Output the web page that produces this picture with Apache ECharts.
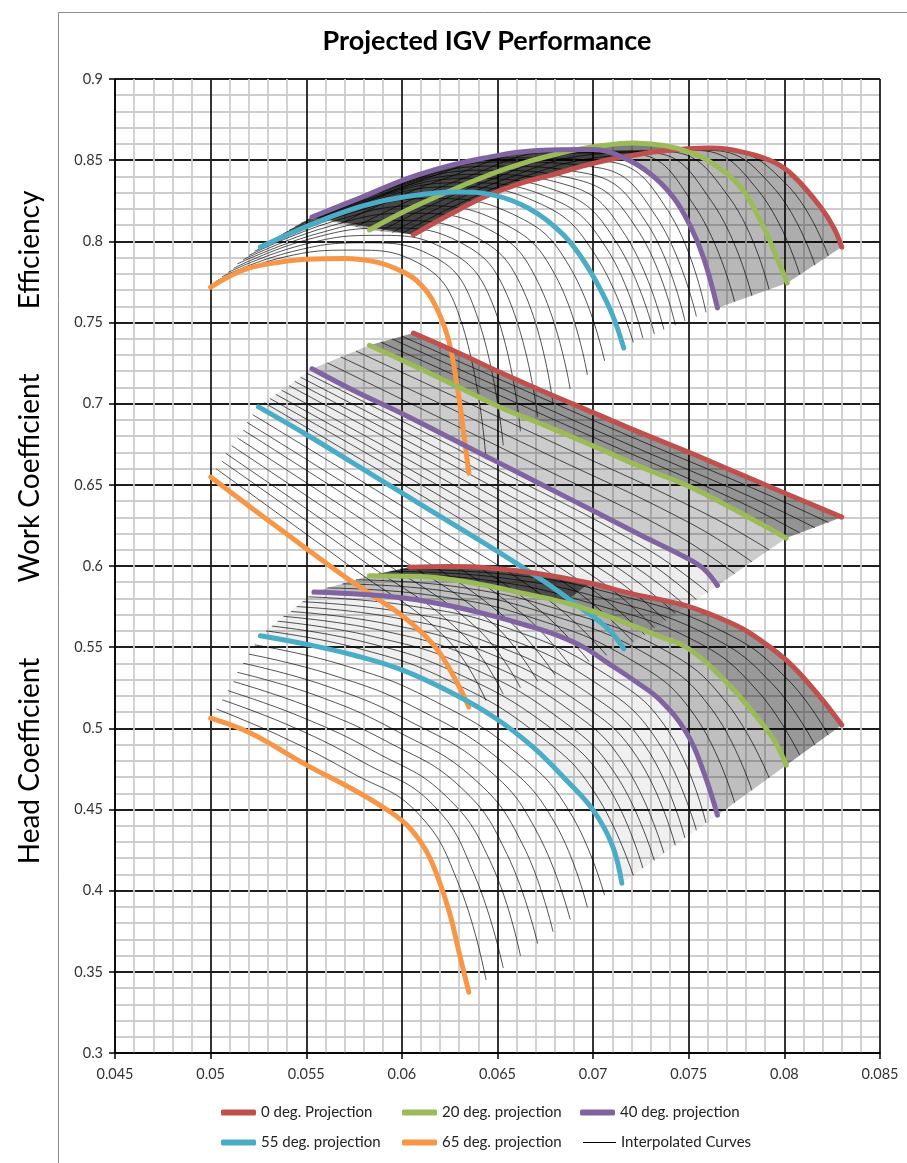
<!DOCTYPE html>
<html>
<head>
<meta charset="utf-8">
<script src="https://cdn.jsdelivr.net/npm/echarts@6/dist/echarts.min.js"></script>
<style>
html,body{margin:0;padding:0;background:#fff;}
#chart{width:907px;height:1163px;}
</style>
</head>
<body>
<div id="chart"></div>
<script>
// ---------- Data ----------
const seriesNames = ['0 deg. Projection', '20 deg. projection', '40 deg. projection', '55 deg. projection', '65 deg. projection'];
const interpName = 'Interpolated Curves';

// Efficiency projections [flow coefficient, efficiency]
const eff0 = [[0.0606,0.804],[0.0625,0.8165],[0.0643,0.8273],[0.0660,0.835],[0.0678,0.8408],[0.0700,0.848],[0.0713,0.8513],[0.0735,0.8555],[0.0761,0.8575],[0.0780,0.8545],[0.0795,0.8485],[0.0805,0.840],[0.0819,0.821],[0.0826,0.808],[0.0830,0.7965]];
const eff20 = [[0.0583,0.807],[0.0605,0.8205],[0.0630,0.8335],[0.0655,0.845],[0.0683,0.8544],[0.0705,0.859],[0.0721,0.8606],[0.0737,0.859],[0.0750,0.855],[0.0761,0.849],[0.0777,0.8335],[0.0789,0.809],[0.0796,0.790],[0.08015,0.7743]];
const eff40 = [[0.0553,0.815],[0.0578,0.8267],[0.0608,0.8408],[0.0643,0.8513],[0.0678,0.8563],[0.0700,0.8565],[0.0715,0.852],[0.0730,0.8415],[0.0742,0.827],[0.0751,0.809],[0.0758,0.789],[0.0765,0.759]];
const eff55 = [[0.0526,0.7965],[0.0556,0.812],[0.0580,0.822],[0.0601,0.8273],[0.0629,0.8304],[0.0648,0.8285],[0.0666,0.8205],[0.0683,0.8057],[0.0693,0.7916],[0.0702,0.7743],[0.0710,0.755],[0.0716,0.7343]];
const eff65 = [[0.0500,0.7718],[0.0510,0.7785],[0.0520,0.7835],[0.0535,0.787],[0.0550,0.789],[0.0570,0.7895],[0.0587,0.7872],[0.0600,0.7815],[0.0608,0.7755],[0.0616,0.7638],[0.0624,0.741],[0.0629,0.7102],[0.0632,0.685],[0.0635,0.6572]];

// Work coefficient projections
const work0 = [[0.0606,0.7435],[0.0630,0.731],[0.0651,0.7195],[0.0675,0.707],[0.0700,0.6945],[0.0725,0.682],[0.0751,0.6696],[0.0775,0.6575],[0.0800,0.645],[0.0830,0.6301]];
const work20 = [[0.0583,0.736],[0.0605,0.724],[0.0630,0.710],[0.0651,0.698],[0.0675,0.6865],[0.0700,0.674],[0.0725,0.661],[0.0751,0.6486],[0.0775,0.634],[0.0801,0.6172]];
const work40 = [[0.0553,0.7215],[0.0575,0.708],[0.0600,0.694],[0.0625,0.679],[0.0650,0.664],[0.0675,0.649],[0.0700,0.634],[0.0725,0.619],[0.0749,0.6049],[0.0758,0.598],[0.0765,0.588]];
const work55 = [[0.0525,0.698],[0.0550,0.681],[0.0575,0.663],[0.0600,0.645],[0.0625,0.627],[0.0650,0.609],[0.0675,0.590],[0.0695,0.573],[0.0708,0.561],[0.0716,0.549]];
const work65 = [[0.0500,0.6548],[0.0520,0.637],[0.0540,0.6195],[0.0556,0.6055],[0.0570,0.5935],[0.0585,0.5815],[0.0599,0.5705],[0.0610,0.5595],[0.0620,0.546],[0.0630,0.5255],[0.0635,0.5131]];

// Head coefficient projections
const head0 = [[0.0604,0.5993],[0.0625,0.5997],[0.0646,0.5988],[0.0670,0.5955],[0.0698,0.5895],[0.0720,0.583],[0.0734,0.5795],[0.0751,0.5747],[0.0770,0.566],[0.0782,0.5587],[0.0801,0.542],[0.0817,0.5217],[0.0830,0.502]];
const head20 = [[0.0583,0.594],[0.0610,0.5935],[0.0635,0.590],[0.0660,0.584],[0.0685,0.5775],[0.0710,0.568],[0.0735,0.5565],[0.0750,0.549],[0.0770,0.528],[0.0787,0.505],[0.0795,0.492],[0.0801,0.4773]];
const head40 = [[0.0554,0.584],[0.0580,0.5825],[0.0603,0.580],[0.0625,0.5755],[0.0646,0.5697],[0.0665,0.5635],[0.0681,0.5574],[0.0695,0.550],[0.0707,0.5408],[0.0722,0.529],[0.0735,0.5174],[0.0749,0.497],[0.0758,0.4724],[0.0765,0.4465]];
const head55 = [[0.0526,0.557],[0.0552,0.5513],[0.0575,0.545],[0.0600,0.536],[0.0625,0.5225],[0.0648,0.507],[0.0668,0.489],[0.0686,0.468],[0.0700,0.4496],[0.0710,0.428],[0.0715,0.4046]];
const head65 = [[0.0500,0.5063],[0.0521,0.497],[0.0550,0.4775],[0.0575,0.462],[0.0592,0.450],[0.0603,0.440],[0.0612,0.426],[0.0618,0.4108],[0.0625,0.3861],[0.0630,0.3615],[0.0635,0.3375]];

// Interpolated curves (a readable subset of the thin black curves)
const effThin = [
  [[0.0503,0.7756],[0.0538,0.7902],[0.0574,0.7946],[0.0608,0.787],[0.0630,0.7542],[0.0644,0.6657]],
  [[0.0506,0.7782],[0.0543,0.7938],[0.0580,0.7991],[0.0616,0.791],[0.0638,0.7584],[0.0653,0.6743]],
  [[0.0509,0.7808],[0.0547,0.7975],[0.0586,0.8037],[0.0623,0.795],[0.0647,0.7627],[0.0662,0.683]],
  [[0.0512,0.7834],[0.0551,0.8012],[0.0592,0.8082],[0.0631,0.799],[0.0655,0.7669],[0.0671,0.6917]],
  [[0.0514,0.7861],[0.0556,0.8048],[0.0597,0.8128],[0.0638,0.803],[0.0663,0.7711],[0.0679,0.7003]],
  [[0.0517,0.7887],[0.0560,0.8085],[0.0603,0.8173],[0.0646,0.807],[0.0671,0.7753],[0.0688,0.709]],
  [[0.0520,0.7913],[0.0564,0.8122],[0.0609,0.8219],[0.0653,0.811],[0.0680,0.7796],[0.0697,0.7177]],
  [[0.0523,0.7939],[0.0569,0.8158],[0.0615,0.8264],[0.0661,0.815],[0.0688,0.7838],[0.0706,0.7263]],
  [[0.0529,0.7986],[0.0577,0.8218],[0.0625,0.8336],[0.0673,0.8228],[0.0701,0.7919],[0.0721,0.7377]],
  [[0.0532,0.8006],[0.0580,0.824],[0.0629,0.8361],[0.0678,0.8265],[0.0707,0.7958],[0.0726,0.7403]],
  [[0.0535,0.8027],[0.0584,0.8263],[0.0634,0.8387],[0.0683,0.8303],[0.0712,0.7997],[0.0732,0.743]],
  [[0.0538,0.8047],[0.0588,0.8286],[0.0638,0.8412],[0.0688,0.8341],[0.0717,0.8035],[0.0737,0.7457]],
  [[0.0541,0.8068],[0.0591,0.8309],[0.0642,0.8438],[0.0692,0.8379],[0.0723,0.8075],[0.0743,0.7483]],
  [[0.0544,0.8088],[0.0595,0.8332],[0.0646,0.8463],[0.0697,0.8417],[0.0728,0.8113],[0.0748,0.751]],
  [[0.0547,0.8109],[0.0599,0.8354],[0.0651,0.8489],[0.0702,0.8455],[0.0733,0.8152],[0.0754,0.7537]],
  [[0.0550,0.8129],[0.0602,0.8377],[0.0655,0.8514],[0.0707,0.8492],[0.0739,0.8191],[0.0759,0.7563]],
  [[0.0561,0.813],[0.0614,0.8393],[0.0667,0.8545],[0.0721,0.8538],[0.0753,0.8218],[0.0774,0.7628]],
  [[0.0568,0.811],[0.0622,0.8385],[0.0676,0.855],[0.0730,0.8545],[0.0762,0.8245],[0.0783,0.7665]],
  [[0.0576,0.809],[0.0630,0.8378],[0.0684,0.8555],[0.0738,0.8553],[0.0771,0.8273],[0.0792,0.7703]],
  [[0.0589,0.8063],[0.0644,0.8368],[0.0699,0.855],[0.0754,0.856],[0.0786,0.8318],[0.0808,0.7796]],
  [[0.0595,0.8055],[0.0650,0.8365],[0.0705,0.854],[0.0761,0.856],[0.0794,0.8335],[0.0816,0.7853]],
  [[0.0600,0.8048],[0.0656,0.8363],[0.0712,0.853],[0.0767,0.856],[0.0801,0.8353],[0.0823,0.7909]]
];
const workThin = [
  [[0.0503,0.6598],[0.0574,0.5989],[0.0623,0.5557],[0.0644,0.517]],
  [[0.0506,0.6645],[0.0580,0.6029],[0.0631,0.5588],[0.0653,0.521]],
  [[0.0508,0.6693],[0.0585,0.6068],[0.0639,0.5620],[0.0662,0.525]],
  [[0.0511,0.6741],[0.0591,0.6108],[0.0647,0.5652],[0.0671,0.529]],
  [[0.0514,0.6789],[0.0597,0.6147],[0.0654,0.5683],[0.0680,0.533]],
  [[0.0517,0.6837],[0.0603,0.6187],[0.0662,0.5715],[0.0689,0.537]],
  [[0.0519,0.6885],[0.0608,0.6226],[0.0670,0.5747],[0.0698,0.541]],
  [[0.0522,0.6932],[0.0614,0.6266],[0.0678,0.5778],[0.0707,0.545]],
  [[0.0528,0.7006],[0.0624,0.6337],[0.0691,0.5847],[0.0721,0.5533]],
  [[0.0531,0.7032],[0.0629,0.6369],[0.0696,0.5884],[0.0727,0.5577]],
  [[0.0534,0.7058],[0.0633,0.6402],[0.0702,0.5921],[0.0732,0.562]],
  [[0.0537,0.7084],[0.0637,0.6434],[0.0707,0.5958],[0.0738,0.5663]],
  [[0.0541,0.7111],[0.0642,0.6466],[0.0712,0.5995],[0.0743,0.5707]],
  [[0.0544,0.7137],[0.0646,0.6498],[0.0717,0.6032],[0.0749,0.575]],
  [[0.0547,0.7163],[0.0650,0.6531],[0.0723,0.6069],[0.0754,0.5793]],
  [[0.0550,0.7189],[0.0655,0.6563],[0.0728,0.6106],[0.0760,0.5837]],
  [[0.0561,0.7251],[0.0667,0.6641],[0.0742,0.6202],[0.0774,0.5953]],
  [[0.0568,0.7288],[0.0676,0.6688],[0.0751,0.6262],[0.0783,0.6026]],
  [[0.0576,0.7324],[0.0684,0.6734],[0.0759,0.6321],[0.0792,0.6099]],
  [[0.0589,0.7379],[0.0699,0.6799],[0.0775,0.6404],[0.0808,0.6204]],
  [[0.0595,0.7398],[0.0705,0.6818],[0.0782,0.6428],[0.0816,0.6236]],
  [[0.0600,0.7416],[0.0712,0.6836],[0.0789,0.6451],[0.0823,0.6268]]
];
const headThin = [
  [[0.0503,0.5119],[0.0538,0.4944],[0.0574,0.4725],[0.0608,0.4481],[0.0630,0.4031],[0.0644,0.345]],
  [[0.0506,0.5176],[0.0543,0.5008],[0.0580,0.479],[0.0616,0.4532],[0.0638,0.4095],[0.0653,0.3524]],
  [[0.0509,0.5232],[0.0547,0.5072],[0.0586,0.4855],[0.0623,0.4583],[0.0647,0.416],[0.0662,0.3599]],
  [[0.0512,0.5288],[0.0551,0.5135],[0.0592,0.492],[0.0631,0.4634],[0.0655,0.4224],[0.0671,0.3673]],
  [[0.0514,0.5345],[0.0556,0.5199],[0.0597,0.4985],[0.0638,0.4686],[0.0663,0.4288],[0.0679,0.3748]],
  [[0.0517,0.5401],[0.0560,0.5263],[0.0603,0.505],[0.0646,0.4737],[0.0671,0.4353],[0.0688,0.3823]],
  [[0.0520,0.5457],[0.0564,0.5327],[0.0609,0.5115],[0.0653,0.4788],[0.0680,0.4417],[0.0697,0.3897]],
  [[0.0523,0.5514],[0.0569,0.5391],[0.0615,0.518],[0.0661,0.4839],[0.0688,0.4481],[0.0706,0.3972]],
  [[0.0529,0.560],[0.0577,0.5493],[0.0625,0.5292],[0.0673,0.4945],[0.0701,0.4601],[0.0721,0.4093]],
  [[0.0532,0.563],[0.0581,0.553],[0.0629,0.5338],[0.0678,0.500],[0.0707,0.4656],[0.0726,0.4139]],
  [[0.0535,0.566],[0.0584,0.5568],[0.0634,0.5385],[0.0683,0.5055],[0.0712,0.4712],[0.0732,0.4186]],
  [[0.0538,0.569],[0.0588,0.5606],[0.0638,0.5432],[0.0688,0.511],[0.0717,0.4767],[0.0737,0.4232]],
  [[0.0542,0.572],[0.0592,0.5644],[0.0642,0.5479],[0.0692,0.5165],[0.0723,0.4823],[0.0743,0.4279]],
  [[0.0545,0.575],[0.0596,0.5682],[0.0646,0.5525],[0.0697,0.522],[0.0728,0.4878],[0.0748,0.4325]],
  [[0.0548,0.578],[0.0599,0.5719],[0.0651,0.5572],[0.0702,0.5275],[0.0733,0.4934],[0.0754,0.4372]],
  [[0.0551,0.581],[0.0603,0.5757],[0.0655,0.5618],[0.0707,0.533],[0.0739,0.4989],[0.0759,0.4418]],
  [[0.0561,0.5865],[0.0615,0.582],[0.0667,0.5685],[0.0721,0.5414],[0.0753,0.5081],[0.0774,0.4542]],
  [[0.0569,0.589],[0.0623,0.5845],[0.0676,0.5705],[0.0730,0.5443],[0.0762,0.5118],[0.0783,0.4619]],
  [[0.0576,0.5915],[0.0630,0.587],[0.0684,0.5725],[0.0739,0.5471],[0.0770,0.5154],[0.0792,0.4696]],
  [[0.0588,0.5953],[0.0644,0.5913],[0.0698,0.5773],[0.0754,0.5534],[0.0786,0.523],[0.0808,0.4835]],
  [[0.0594,0.5967],[0.0650,0.593],[0.0705,0.580],[0.0761,0.5568],[0.0794,0.527],[0.0816,0.4897]],
  [[0.0599,0.598],[0.0655,0.5948],[0.0711,0.5828],[0.0767,0.5601],[0.0801,0.531],[0.0823,0.4958]]
];

const title = 'Projected IGV Performance';
const yGroupTitles = ['Efficiency', 'Work Coefficient', 'Head Coefficient'];

// ---------- Styling ----------
const colors = ['#C0504D', '#9BBB59', '#8064A2', '#4BACC6', '#F79646'];
const FONT = 'Lato, "Open Sans", sans-serif';

const families = [
  [eff0, eff20, eff40, eff55, eff65],
  [work0, work20, work40, work55, work65],
  [head0, head20, head40, head55, head65]
];
const thinFamilies = [effThin, workThin, headThin];

// shaded bands between neighbouring projections (dense hatching in the original)
const bands = [
  [eff40, eff20, 'rgba(0,0,0,0.28)'], [eff20, eff0, 'rgba(0,0,0,0.32)'],
  [eff40.slice(0, 7), eff0.slice(0, 9), 'rgba(0,0,0,0.62)'],
  [work55, work40, 'rgba(0,0,0,0.07)'], [work40, work20, 'rgba(0,0,0,0.2)'], [work20, work0, 'rgba(0,0,0,0.42)'],
  [head55, head40, 'rgba(0,0,0,0.06)'], [head40, head20, 'rgba(0,0,0,0.25)'], [head20, head0, 'rgba(0,0,0,0.4)'],
  [head20.slice(0, 5), head0.slice(0, 5), 'rgba(0,0,0,0.5)']
];

const series = [];
bands.forEach(([a, b, fill]) => {
  series.push({
    type: 'custom', name: 'band', silent: true, z: 1, clip: true,
    data: [a[0]],
    renderItem: (params, api) => {
      const pts = a.concat(b.slice().reverse()).map(p => api.coord(p));
      return { type: 'polygon', shape: { points: pts }, style: { fill: fill, stroke: null } };
    }
  });
});
thinFamilies.forEach(fam => fam.forEach(curve => {
  series.push({
    type: 'line', name: interpName, data: curve, smooth: 0.45, symbol: 'none', silent: true, z: 2,
    lineStyle: { color: '#000', width: 0.85, opacity: 0.8 }, itemStyle: { color: '#000' }
  });
}));
families.forEach(fam => fam.forEach((curve, i) => {
  series.push({
    type: 'line', name: seriesNames[i], data: curve, smooth: 0.4, symbol: 'none', z: 3,
    lineStyle: { color: colors[i], width: 5, cap: 'round', join: 'round' }, itemStyle: { color: colors[i] }
  });
}));

const legendPos = [[221, 1105], [402, 1105], [580, 1105], [221, 1135], [402, 1135], [583, 1135]];
const legendNames = seriesNames.concat([interpName]);
const legends = legendNames.map((n, i) => ({
  data: [{ name: n, icon: i < 5 ? 'roundRect' : 'rect' }],
  left: legendPos[i][0], top: legendPos[i][1], padding: 0,
  itemWidth: i < 5 ? 35 : 33, itemHeight: i < 5 ? 6 : 1,
  selectedMode: false,
  textStyle: { fontFamily: FONT, fontSize: 15, color: '#222' }
}));

const axisCommon = {
  type: 'value',
  axisLine: { show: true, lineStyle: { color: '#000', width: 1.5 } },
  axisTick: { show: true, length: 6, lineStyle: { color: '#000', width: 1.5 } },
  splitLine: { show: true, lineStyle: { color: '#1e1e1e', width: 1.8 } },
  minorTick: { show: false, splitNumber: 5 },
  minorSplitLine: { show: true, lineStyle: { color: '#cdcdcd', width: 1.8 } }
};

const option = {
  animation: false,
  backgroundColor: '#fff',
  grid: { left: 115, right: 27, top: 79, bottom: 110 },
  xAxis: Object.assign({}, axisCommon, {
    min: 0.045, max: 0.085, interval: 0.005,
    axisLabel: { formatter: v => String(+v.toFixed(3)), margin: 14, fontFamily: FONT, fontSize: 14.5, color: '#333' }
  }),
  yAxis: Object.assign({}, axisCommon, {
    min: 0.3, max: 0.9, interval: 0.05,
    axisLabel: { formatter: v => String(+v.toFixed(2)), margin: 12, fontFamily: FONT, fontSize: 14.5, color: '#333' }
  }),
  legend: legends,
  series: series,
  graphic: [
    { type: 'rect', silent: true, z: -10, shape: { x: 58.5, y: 12.5, width: 1000, height: 1300 },
      style: { fill: null, stroke: '#8c8c8c', lineWidth: 1 } },
    { type: 'text', x: 487, y: 41, silent: true,
      style: { text: title, font: 'bold 27px ' + FONT, fill: '#000', align: 'center', verticalAlign: 'middle', textAlign: 'center', textVerticalAlign: 'middle' } },
    { type: 'text', x: 30, y: 250, rotation: Math.PI / 2, silent: true,
      style: { text: yGroupTitles[0], font: '28px ' + FONT, fill: '#000', align: 'center', verticalAlign: 'middle', textAlign: 'center', textVerticalAlign: 'middle' } },
    { type: 'text', x: 30, y: 478, rotation: Math.PI / 2, silent: true,
      style: { text: yGroupTitles[1], font: '28px ' + FONT, fill: '#000', align: 'center', verticalAlign: 'middle', textAlign: 'center', textVerticalAlign: 'middle' } },
    { type: 'text', x: 30, y: 761, rotation: Math.PI / 2, silent: true,
      style: { text: yGroupTitles[2], font: '28px ' + FONT, fill: '#000', align: 'center', verticalAlign: 'middle', textAlign: 'center', textVerticalAlign: 'middle' } }
  ]
};

const chart = echarts.init(document.getElementById('chart'), null, { renderer: 'canvas' });
chart.setOption(option);
</script>
</body>
</html>
